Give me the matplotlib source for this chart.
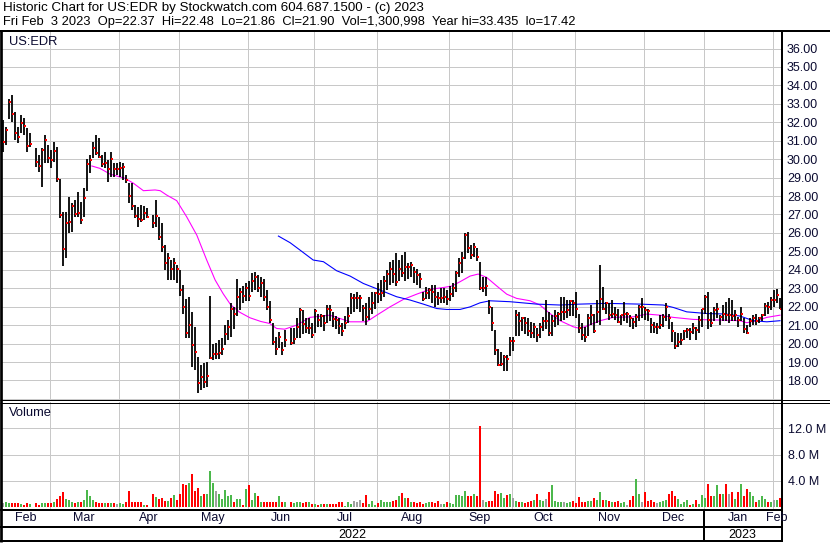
import numpy as np
import matplotlib
matplotlib.use("Agg")
import matplotlib.pyplot as plt
from matplotlib.lines import Line2D
import matplotlib.transforms as mtransforms

plt.rcParams['font.family'] = ['Liberation Sans', 'DejaVu Sans']

# ---------------- data (one bar per weekday slot, None = market holiday) ----------------
high = [32.12, 31.76, 33.26, 33.48, 32.57, 31.76, 32.39, 32.21, 31.67, 31.40, None,
        30.58, 30.22, 30.58, 31.31, 30.77, 30.49, 30.95, 30.68, 28.92, 27.15,
        27.15, 27.96, 27.60, 27.78, 28.20, 27.69, 28.42, 30.00, 30.22, 30.95,
        31.31, 31.13, 30.22, 30.40, 29.95, 30.40, 29.77, 29.81, 29.86, 29.81,
        29.14, 28.69, 28.72, 27.51, 27.42, 27.51, 27.46, 27.33, None, 26.97,
        27.78, 26.88, 26.52, 25.34, 24.89, 24.53, 24.62, 24.26, 24.00, 23.20,
        22.40, 22.50, 21.70, 20.90, 19.25, 18.83, 18.92, 18.98, 22.60, 20.00,
        20.04, 20.22, 20.30, 21.00, 21.30, 22.20, 22.00, 23.50, 23.00, 23.10,
        23.30, 23.40, 23.80, 23.90, 23.70, 23.60, 23.50, 22.90, 22.30, 21.10,
        20.37, 20.64, 20.10, 20.73, None, 20.82, 20.82, 21.36, 21.95, 21.81,
        21.36, 21.36, 21.09, 21.90, 21.60, 21.63, 21.54, 22.09, 22.09, 21.72,
        21.50, 21.36, 21.09, 21.50, 22.00, 22.72, 22.68, 22.81, 22.63, 22.09,
        22.18, 22.54, 22.81, 22.81, 23.26, 23.44, 23.66, 23.98, 24.43, 24.53,
        24.92, 24.53, 24.80, 24.98, 24.35, 24.43, 24.16, 24.07, 23.84, 22.81,
        23.08, 22.99, 23.17, 23.17, 22.81, 23.04, 22.99, 22.90, 23.10, 23.30,
        23.95, 24.62, 24.98, 25.97, 26.06, 25.34, 25.47, 25.16, 24.43, 23.62,
        23.62, 22.36, 21.99, 20.73, 19.68, 19.55, 19.40, 19.37, 20.37, 20.37,
        21.81, 21.72, 21.45, 21.45, 21.36, 21.18, 21.13, 20.82, 21.09, 21.45,
        22.36, 21.72, 21.54, 21.81, 21.72, 22.54, 22.54, 22.36, 22.36, 22.36,
        22.81, 21.63, 21.10, 20.90, 21.60, 22.10, 21.60, 22.36, 24.26, 23.08,
        22.27, 22.18, 22.36, 22.00, 21.90, 21.54, 22.27, 21.72, 21.54, 21.36,
        21.63, 22.09, 22.45, 22.00, 21.90, 21.36, 21.18, 21.09, 21.54, 21.63,
        22.20, 21.63, 21.18, 20.64, 20.55, 20.55, 20.73, 20.82, 20.82, 21.09,
        20.91, 21.50, 21.90, 22.63, 22.80, 21.72, 21.99, 22.18, 21.54, 22.09,
        22.27, 22.45, 22.36, 21.81, 21.45, 22.00, 21.36, 21.00, 21.36, 21.54,
        21.63, 21.45, 21.63, 22.18, 22.27, 22.54, 22.90, 22.94, 22.48]

low = [30.40, 30.77, 32.16, 32.03, 31.04, 30.86, 31.40, 31.31, 30.40, 30.67, None,
       29.55, 29.32, 28.47, 29.77, 29.77, 29.50, 29.86, 28.78, 26.79, 24.22,
       24.62, 25.97, 26.06, 26.88, 26.88, 26.48, 26.88, 28.29, 29.27, 30.04,
       30.22, 30.04, 29.59, 29.50, 28.78, 29.05, 29.05, 29.14, 29.05, 28.87,
       28.69, 27.64, 27.24, 26.79, 26.34, 26.61, 26.70, 26.79, None, 26.25,
       26.34, 25.61, 24.98, 23.99, 23.44, 23.44, 23.44, 23.30, 22.60, 21.60,
       20.30, 20.30, 18.74, 18.56, 17.33, 17.48, 17.57, 17.62, 19.19, 19.10,
       19.14, 19.19, 19.37, 19.92, 20.20, 20.33, 20.80, 21.50, 21.80, 22.20,
       22.30, 22.30, 22.80, 22.90, 22.80, 22.50, 22.30, 21.80, 21.10, 19.90,
       19.40, 19.74, 19.37, 19.83, None, 19.90, 20.00, 20.30, 20.30, 20.50,
       20.60, 20.50, 20.30, 20.60, 20.90, 20.90, 20.70, 21.10, 21.20, 20.90,
       20.80, 20.50, 20.40, 20.80, 21.10, 21.60, 21.70, 21.90, 21.70, 21.20,
       21.00, 21.30, 21.60, 21.90, 22.20, 22.30, 22.50, 22.90, 23.20, 23.30,
       23.10, 23.40, 23.60, 23.40, 23.50, 23.60, 23.30, 23.20, 23.00, 22.30,
       22.40, 22.40, 22.20, 22.00, 22.10, 22.20, 22.20, 22.10, 22.30, 22.50,
       22.80, 23.60, 23.80, 24.60, 24.90, 24.60, 24.70, 24.50, 22.90, 22.80,
       22.60, 21.60, 20.70, 19.40, 18.80, 18.80, 18.50, 18.50, 19.30, 19.60,
       20.40, 20.40, 20.70, 20.50, 20.40, 20.30, 20.30, 20.10, 20.30, 20.70,
       20.80, 20.40, 20.40, 20.90, 21.00, 21.20, 21.30, 21.40, 21.50, 21.50,
       21.40, 20.60, 20.20, 20.10, 20.40, 21.00, 20.60, 21.10, 21.00, 21.80,
       21.60, 21.30, 21.40, 21.30, 21.10, 21.00, 21.20, 21.10, 20.90, 20.80,
       20.90, 21.20, 21.40, 21.30, 21.20, 20.60, 20.60, 20.50, 20.80, 20.90,
       21.20, 20.80, 20.10, 19.70, 19.80, 19.90, 20.20, 20.30, 20.20, 20.50,
       20.20, 20.60, 20.90, 21.60, 20.80, 20.90, 21.20, 21.40, 21.00, 21.20,
       21.20, 21.10, 21.20, 21.20, 20.90, 21.20, 20.60, 20.50, 20.90, 21.00,
       21.00, 21.10, 21.20, 21.50, 21.60, 21.80, 22.00, 22.20, 21.86]

close = [30.95, 31.58, 33.12, 32.45, 31.40, 31.22, 31.94, 31.81, 30.73, 30.80, None,
         29.86, 29.64, 30.49, 31.04, 30.08, 29.95, 30.46, 28.92, 26.97, 25.13,
         26.55, 26.61, 27.48, 27.02, 27.10, 26.70, 27.87, 29.73, 29.95, 30.62,
         30.31, 30.10, 29.73, 29.77, 29.45, 29.99, 29.45, 29.45, 29.50, 29.55,
         28.87, 28.00, 27.46, 26.92, 26.73, 26.70, 27.06, 26.88, None, 26.55,
         26.92, 25.79, 25.25, 24.38, 24.62, 24.06, 24.38, 24.02, 22.90, 22.00,
         20.60, 21.00, 19.93, 19.56, 17.84, 18.20, 17.93, 18.25, 19.23, 19.43,
         19.43, 19.50, 19.70, 20.50, 20.90, 21.90, 21.60, 22.50, 22.80, 22.60,
         23.00, 22.60, 23.40, 23.60, 23.00, 23.30, 22.50, 22.00, 21.30, 20.10,
         19.70, 20.33, 19.65, 20.19, None, 20.04, 20.27, 20.90, 21.81, 21.05,
         20.82, 20.87, 20.46, 21.77, 21.30, 21.49, 21.13, 21.85, 21.81, 21.31,
         21.27, 20.95, 20.69, 21.13, 21.49, 22.45, 22.45, 22.45, 22.45, 21.94,
         21.45, 21.90, 22.18, 22.76, 22.68, 22.72, 23.40, 23.77, 24.07, 23.77,
         23.35, 24.07, 23.80, 24.16, 24.13, 24.25, 23.89, 23.71, 23.48, 22.40,
         22.72, 22.90, 22.81, 22.54, 22.49, 22.49, 22.50, 22.40, 22.68, 22.99,
         23.84, 24.38, 24.62, 25.88, 25.16, 24.80, 25.25, 24.71, 23.03, 23.03,
         23.12, 21.99, 21.13, 19.65, 18.83, 18.89, 19.28, 19.19, 20.15, 20.15,
         21.54, 21.23, 21.36, 21.13, 20.69, 20.59, 20.91, 20.46, 20.91, 21.24,
         21.24, 20.58, 21.24, 21.49, 21.63, 21.72, 21.72, 21.81, 22.32, 22.18,
         21.90, 20.82, 20.46, 20.37, 21.36, 21.54, 20.68, 21.72, 22.40, 21.90,
         22.18, 21.54, 21.63, 21.54, 21.18, 21.54, 21.60, 21.60, 21.36, 21.18,
         21.45, 21.96, 21.96, 21.81, 21.78, 21.00, 20.91, 20.91, 21.00, 21.45,
         21.96, 21.40, 20.68, 19.88, 20.10, 20.19, 20.70, 20.76, 20.64, 20.82,
         20.73, 21.30, 21.90, 22.54, 21.30, 21.13, 21.81, 21.90, 21.45, 21.60,
         21.54, 21.54, 21.49, 21.54, 21.27, 21.63, 20.77, 20.59, 21.24, 21.36,
         21.24, 21.36, 21.54, 22.03, 21.96, 22.36, 22.36, 22.63, 21.90]

volume_m = [0.6, 0.8, 0.6, 0.6, 0.6, 0.6, 0.5, 0.3, 0.6, 0.5, None,
            0.6, 0.3, 0.6, 0.6, 0.6, 0.6, 0.7, 1.2, 1.7, 2.2,
            1.2, 1.0, 0.8, 0.6, 0.8, 0.8, 1.0, 2.6, 1.6, 1.0,
            0.7, 0.6, 0.6, 0.6, 0.6, 0.6, 0.6, 0.5, 0.6, 0.5,
            0.7, 2.4, 0.8, 0.8, 0.8, 0.8, 0.3, 0.3, None, 2.0,
            1.5, 1.2, 1.3, 0.9, 0.9, 1.3, 1.8, 1.1, 2.0, 3.5,
            3.3, 3.7, 5.0, 2.4, 2.9, 1.6, 2.0, 2.0, 5.5, 3.7,
            2.4, 2.0, 1.2, 2.6, 1.6, 1.8, 0.8, 1.2, 1.2, 0.3,
            2.8, 3.4, 1.1, 2.1, 1.6, 0.8, 0.7, 0.7, 0.8, 0.7,
            0.7, 1.6, 0.7, 0.7, None, 0.8, 0.6, 0.7, 0.8, 0.6,
            0.7, 0.7, 0.4, 0.4, 0.3, 0.4, 0.4, 0.4, 0.4, 0.4,
            0.4, 0.7, 0.8, 0.2, 0.7, 0.5, 0.9, 0.8, 1.0, 0.6,
            1.8, 0.4, 0.9, 0.3, 0.6, 1.1, 0.7, 0.8, 0.8, 0.9,
            1.0, 1.7, 2.1, 1.3, 1.3, 0.8, 0.8, 0.6, 0.7, 0.4,
            0.6, 0.8, 0.7, 0.6, 0.9, 0.5, 0.4, 0.8, 0.6, 0.5,
            1.8, 1.8, 1.6, 2.4, 1.7, 1.7, 2.0, 1.6, 12.3, 1.1,
            0.8, 0.9, 0.9, 2.4, 2.0, 2.1, 1.3, 1.8, 2.0, 1.3,
            0.9, 0.7, 0.8, 0.6, 0.8, 0.9, 1.0, 2.0, 1.1, 0.9,
            1.2, 2.3, 3.4, 0.9, 0.8, 0.7, 0.8, 0.6, 0.7, 0.9,
            0.6, 1.5, 0.8, 0.7, 0.9, 0.9, 1.3, 1.0, 2.3, 1.0,
            1.0, 0.9, 0.7, 0.8, 0.9, 0.6, 0.7, 0.3, 1.1, 1.7,
            4.3, 2.0, 0.7, 2.3, 0.9, 1.0, 0.8, 0.6, 0.7, 0.9,
            1.0, 1.9, 2.5, 1.7, 1.2, 0.5, 0.8, 1.1, 0.3, 0.4,
            1.1, 0.5, 1.8, 1.4, 3.5, 1.7, 1.6, 3.4, 2.0, 2.0,
            3.5, 2.0, 2.2, 1.2, 2.3, 3.5, 1.6, 2.7, 2.3, 1.6,
            0.8, 1.1, 1.7, 1.2, 0.8, 0.8, 1.0, 1.1, 1.3]

# moving averages (bar position, price)
ma_fast_pos = [29.7, 32.4, 35.8, 40.8, 43.6, 46.9, 50.8, 52.5, 54.7, 58.0, 61.3, 64.7,
               68.0, 70.8, 73.5, 76.0, 79.0, 82.4, 86.0, 89.0, 91.3, 94.0, 98.0, 102.4,
               109.0, 111.3, 115.8, 121.3, 124.7, 129.1, 133.5, 138.0, 142.4, 146.9,
               149.7, 152.4, 155.8, 158.5, 161.3, 164.7, 168.0, 171.3, 175.8, 179.1,
               182.4, 185.8, 190.2, 192.4, 194.7, 199.1, 203.5, 210.2, 214.7, 219.1,
               223.5, 230.2, 240.2, 245.8, 248.0, 251.3, 254.7, 259.1]
ma_fast_val = [29.63, 29.50, 29.19, 28.96, 28.69, 28.29, 28.33, 28.29, 28.05, 27.75, 26.88, 25.88,
               24.53, 23.45, 22.70, 22.10, 21.70, 21.40, 21.20, 21.09, 20.82, 20.78, 21.00, 21.42,
               21.54, 21.42, 21.18, 21.18, 21.54, 21.99, 22.39, 22.68, 22.94, 23.04,
               23.12, 23.35, 23.66, 23.77, 23.59, 23.12, 22.68, 22.45, 22.32, 22.09,
               21.63, 21.24, 20.91, 20.82, 20.95, 21.24, 21.42, 21.45, 21.60, 21.54,
               21.42, 21.31, 21.27, 21.24, 21.13, 21.24, 21.42, 21.54]
ma_slow_pos = [91.9, 95.8, 99.1, 103.5, 106.9, 111.3, 115.8, 120.2, 125.8, 131.3, 135.8,
               140.2, 144.7, 148.0, 152.4, 155.8, 159.1, 162.4, 169.1, 178.0, 185.8, 192.4,
               201.3, 212.4, 220.2, 223.5, 228.0, 234.7, 241.3, 245.8, 250.2, 254.7, 259.1]
ma_slow_val = [25.83, 25.47, 25.07, 24.53, 24.44, 23.95, 23.66, 23.26, 22.90, 22.54, 22.36,
               22.14, 21.90, 21.85, 21.85, 21.99, 22.21, 22.32, 22.27, 22.14, 22.09, 22.14,
               22.18, 22.14, 22.09, 21.96, 21.72, 21.63, 21.60, 21.49, 21.24, 21.18, 21.24]

month_labels = ['Feb', 'Mar', 'Apr', 'May', 'Jun', 'Jul', 'Aug', 'Sep', 'Oct', 'Nov', 'Dec', 'Jan', 'Feb']
month_start_bar = [16, 39, 59, 82, 104, 125, 149, 170, 191, 214, 234, 257]
year_labels = ['2022', '2023']
price_ticks = list(range(17, 37))
vol_ticks = [4, 8, 12]
vol_tick_labels = ['4.0 M', '8.0 M', '12.0 M']
title_line1 = 'Historic Chart for US:EDR by Stockwatch.com 604.687.1500 - (c) 2023'
title_line2 = ('Fri Feb  3 2023  Op=22.37  Hi=22.48  Lo=21.86  Cl=21.90  '
               'Vol=1,300,998  Year hi=33.435  lo=17.42')
symbol = 'US:EDR'

# ---------------- layout ----------------
W, H, DPI = 830, 543, 100
PX = 72.0 / DPI
fig = plt.figure(figsize=(W / DPI, H / DPI), dpi=DPI)
fig.patch.set_facecolor('white')


def rect(x0, y0, x1, y1):
    return [x0 / W, 1 - y1 / H, (x1 - x0) / W, (y1 - y0) / H]


def hline(y, x0, x1, lw=1.0, color='black'):
    fig.add_artist(Line2D([x0 / W, x1 / W], [1 - y / H, 1 - y / H], transform=fig.transFigure,
                          color=color, lw=lw * PX, solid_capstyle='butt', zorder=10))


def vline(x, y0, y1, lw=1.0, color='black'):
    fig.add_artist(Line2D([x / W, x / W], [1 - y0 / H, 1 - y1 / H], transform=fig.transFigure,
                          color=color, lw=lw * PX, solid_capstyle='butt', zorder=10))


XL = (-0.567, 259.43)
GRID = '#c8c8c8'
TXT = '#0a0a30'
FS = 9

ax_p = fig.add_axes(rect(1, 31, 781, 400))
ax_v = fig.add_axes(rect(1, 402, 781, 509))

bounds = [m - 0.4 for m in month_start_bar]

n = len(close)
idx = np.arange(n)
hi = np.array([np.nan if v is None else v for v in high])
lo = np.array([np.nan if v is None else v for v in low])
cl = np.array([np.nan if v is None else v for v in close])
vol = np.array([np.nan if v is None else v for v in volume_m])

for ax in (ax_p, ax_v):
    ax.set_xlim(*XL)
    for s in ax.spines.values():
        s.set_visible(False)
    ax.set_xticks(bounds)
    ax.tick_params(axis='x', length=0, labelbottom=False)
    ax.grid(True, color=GRID, lw=1.0 * PX, zorder=0)
    ax.set_axisbelow(True)

# price panel
ax_p.set_ylim(16.94, 36.95)
ax_p.yaxis.tick_right()
ax_p.set_yticks(price_ticks)
ax_p.set_yticklabels(['' if t == 17 else f'{t:.2f}' for t in price_ticks])
ax_p.tick_params(axis='y', length=0, pad=6 * PX, labelsize=FS, labelcolor=TXT)

ax_p.plot(ma_fast_pos, ma_fast_val, color='#ff00ff', lw=1.1 * PX, zorder=2)
ax_p.plot(ma_slow_pos, ma_slow_val, color='#0000ff', lw=1.1 * PX, zorder=2)
ok = ~np.isnan(cl)
ax_p.vlines(idx[ok], lo[ok], hi[ok], colors='black', lw=1.8 * PX, zorder=3)
ax_p.plot(idx[ok] + 0.3, cl[ok], 's', color='#ff0000', ms=2.4 * PX, mew=0, zorder=4)
fig.text(9 / W, 1 - 42 / H, symbol, fontsize=9.3, color=TXT, va='center', ha='left')

# volume panel
ax_v.set_ylim(-0.32, 16.02)
ax_v.yaxis.tick_right()
ax_v.set_yticks(vol_ticks)
ax_v.set_yticklabels(vol_tick_labels)
ax_v.tick_params(axis='y', length=0, pad=7 * PX, labelsize=FS, labelcolor=TXT)
last = np.nan
prev_valid = []
for c in cl:
    prev_valid.append(last)
    if not np.isnan(c):
        last = c
prev_valid = np.array(prev_valid)
colors = []
for c, p in zip(cl, prev_valid):
    if np.isnan(c) or np.isnan(p) or abs(c - p) < 1e-9:
        colors.append('#a0a0a0')
    elif c > p:
        colors.append('#4cb84c')
    else:
        colors.append('#ff0000')
vok = ~np.isnan(vol)
ax_v.bar(idx[vok], vol[vok], width=0.7, color=np.array(colors)[vok], zorder=3, linewidth=0)
fig.text(9 / W, 1 - 413 / H, 'Volume', fontsize=9.3, color=TXT, va='center', ha='left')

# date labels
blend = mtransforms.blended_transform_factory(ax_v.transData, fig.transFigure)
edges = [XL[0]] + bounds + [XL[1]]
for k, lab in enumerate(month_labels):
    xc = 0.5 * (edges[k] + edges[k + 1])
    fig.text(0, 0, lab, transform=blend, fontsize=FS, color=TXT, ha='center', va='center',
             zorder=12).set_position((xc, 1 - 518 / H))
jan = bounds[10]
year_edges = [XL[0], jan, XL[1]]
for k, lab in enumerate(year_labels):
    xc = 0.5 * (year_edges[k] + year_edges[k + 1])
    fig.text(0, 0, lab, transform=blend, fontsize=FS, color='black', ha='center', va='center',
             zorder=12).set_position((xc, 1 - 534.5 / H))

# header
fig.text(3 / W, 1 - 8 / H, title_line1, fontsize=9.6, color='black', ha='left', va='center')
fig.text(3 / W, 1 - 21.5 / H, title_line2, fontsize=9.3, color='black', ha='left', va='center')

# frame lines
hline(31, 0, W, lw=2)
vline(1.3, 31, 542, lw=2.7)
hline(400, 0, W, lw=1)
hline(402.5, 0, W, lw=1)
vline(781.5, 31, 542, lw=2)
hline(510, 0, 782, lw=2)
hline(526.5, 0, 782, lw=2)
hline(541, 0, 782, lw=2)
jan_px = 2.7 + 3 * jan
vline(jan_px, 510, 541, lw=2)

fig.savefig('out.png', dpi=DPI)
